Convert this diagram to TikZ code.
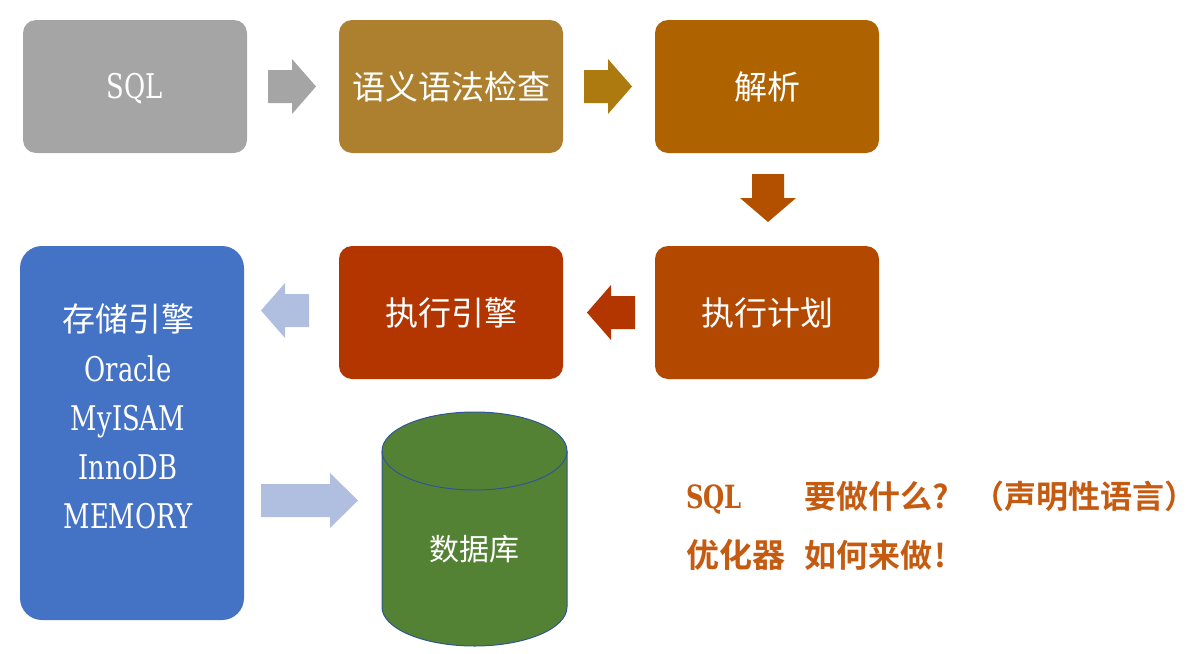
\documentclass[tikz,border=0pt]{standalone}
\usepackage{fontspec}
\setmainfont[FakeStretch=0.76]{DejaVu Serif}
\newfontfamily\cjk{Noto Sans CJK SC}
\newfontfamily\cjkb{Noto Sans CJK SC Bold}
\definecolor{cgray}{HTML}{A5A5A5}
\definecolor{cgold}{HTML}{AD8030}
\definecolor{cgoldb}{HTML}{AD7A10}
\definecolor{corange}{HTML}{AE6200}
\definecolor{cbrown}{HTML}{B25000}
\definecolor{cplan}{HTML}{B34800}
\definecolor{cred}{HTML}{B33600}
\definecolor{cblue}{HTML}{4472C4}
\definecolor{clight}{HTML}{B0BEDF}
\definecolor{cgreen}{HTML}{548235}
\definecolor{cline}{HTML}{2F5597}
\definecolor{ctext}{HTML}{C55A11}
\tikzset{
  boxn/.style={rectangle,rounded corners=13pt,minimum width=224pt,minimum height=133pt,inner sep=0pt,text=white,align=center},
  cjkt/.style={font=\cjk\fontsize{33}{40}\selectfont,text=white,inner sep=0pt},
  latt/.style={font=\fontsize{34}{40}\selectfont,text=white,inner sep=0pt},
  bcjk/.style={font=\cjkb\fontsize{32}{38}\selectfont,text=ctext,inner sep=0pt,anchor=base west},
  blat/.style={font=\bfseries\fontsize{32}{38}\selectfont,text=ctext,inner sep=0pt,anchor=base west},
}
\begin{document}
\begin{tikzpicture}[x=1pt,y=-1pt]
\useasboundingbox (0,0) rectangle (1198,653);
\node[boxn,fill=cgray] (sql) at (135,86.5) {};
\node[latt,anchor=base] (sqlt) at (135,98) {SQL};
\node[boxn,fill=cgold,cjkt] (check) at (451,86.5) {语义语法检查};
\node[boxn,fill=corange,cjkt] (parse) at (767,86.5) {解析};
\node[boxn,fill=cplan,cjkt] (plan) at (767,312.5) {执行计划};
\node[boxn,fill=cred,cjkt] (exec) at (451,312.5) {执行引擎};
\node[rectangle,rounded corners=22pt,minimum width=224pt,minimum height=374pt,fill=cblue] (store) at (132,433) {};
\node[cjkt] (s0) at (128,319) {存储引擎};
\node[latt,anchor=base] (s1) at (128,381) {Oracle};
\node[latt,anchor=base] (s2) at (128,430) {MyISAM};
\node[latt,anchor=base] (s3) at (128,479) {InnoDB};
\node[latt,anchor=base] (s4) at (128,528) {MEMORY};
% block arrows
\fill[cgray] (268,70) -- (292,70) -- (292,59) -- (316,86.5) -- (292,114) -- (292,103) -- (268,103) -- cycle;
\fill[cgoldb] (584,70) -- (608,70) -- (608,59) -- (632,86.5) -- (608,114) -- (608,103) -- (584,103) -- cycle;
\fill[cbrown] (752,174) -- (784,174) -- (784,198) -- (796,198) -- (768,222) -- (740,198) -- (752,198) -- cycle;
\fill[cred] (635,296) -- (611,296) -- (611,285) -- (587,312.5) -- (611,340) -- (611,329) -- (635,329) -- cycle;
\fill[clight] (309,294) -- (285,294) -- (285,283) -- (261,310.5) -- (285,338) -- (285,327) -- (309,327) -- cycle;
\fill[clight] (261,484) -- (330,484) -- (330,473) -- (358,500.5) -- (330,528) -- (330,517) -- (261,517) -- cycle;
% cylinder
\draw[cline,fill=cgreen,line width=1pt] (382,451) arc[x radius=92.5,y radius=39,start angle=180,end angle=360] -- (567,607) arc[x radius=92.5,y radius=39,start angle=0,end angle=180] -- cycle;
\draw[cline,line width=1pt] (382,451) arc[x radius=92.5,y radius=39,start angle=180,end angle=0];
\node[cjkt,font=\cjk\fontsize{30}{36}\selectfont] (db) at (474,549) {数据库};
% right text
\node[blat] (t1) at (686,508) {SQL};
\node[bcjk] (t2) at (804,508) {要做什么?};
\node[bcjk] (t3) at (972,508) {（声明性语言）};
\node[bcjk,font=\cjkb\fontsize{33}{38}\selectfont] (t4) at (686,567) {优化器};
\node[bcjk] (t5) at (804,567) {如何来做\kern2pt!};
\end{tikzpicture}
\end{document}
